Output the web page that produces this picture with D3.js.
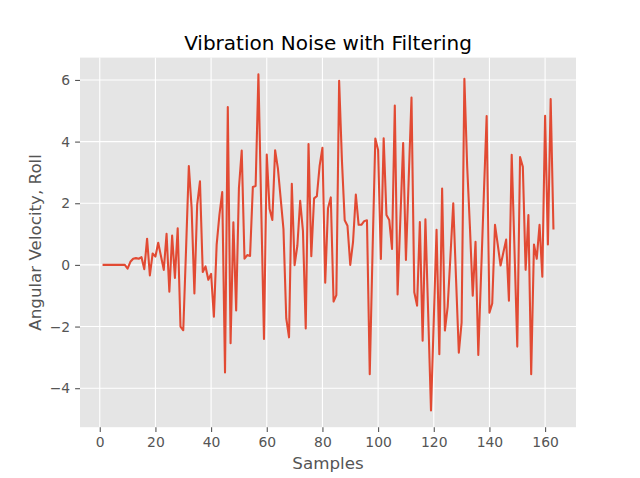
<!DOCTYPE html>
<html>
<head>
<meta charset="utf-8">
<script src="https://cdn.jsdelivr.net/npm/d3@7"></script>
<style>
  html, body { margin: 0; padding: 0; background: #fff; }
  svg { display: block; font-family: "DejaVu Sans", sans-serif; }
</style>
</head>
<body>
<div id="chart"></div>
<script>
// angular velocity (roll) per sample; samples start at 1
var roll = [
  0, 0, 0, 0, 0, 0, 0, 0, 0, -0.12,
  0.1, 0.2, 0.22, 0.2, 0.25, -0.14, 0.85, -0.34, 0.37, 0.27,
  0.72, 0.28, -0.16, 1.01, -0.87, 0.95, -0.42, 1.19, -2.0, -2.12,
  0.5, 3.21, 1.85, -0.93, 1.95, 2.71, -0.23, -0.05, -0.48, -0.29,
  -1.68, 0.66, 1.63, 2.36, -3.49, 5.12, -2.54, 1.38, -1.48, 2.5,
  3.71, 0.2, 0.32, 0.29, 2.53, 2.56, 6.18, 1.9, -2.4, 3.58,
  1.82, 1.46, 3.72, 3.13, 2.15, 1.16, -1.73, -2.35, 2.63, -0.01,
  0.63, 2.08, 1.1, -2.06, 3.92, 0.28, 2.16, 2.23, 3.22, 3.8,
  -0.58, 1.84, 2.19, -1.19, -0.98, 5.97, 3.4, 1.45, 1.27, 0,
  0.75, 2.28, 1.3, 1.3, 1.42, 1.45, -3.55, 0.4, 4.1, 3.73,
  0.19, 4.11, 1.62, 1.46, 0.52, 5.17, -0.96, 1.5, 3.95, 0.16,
  2.8, 5.43, -0.89, -1.32, 1.39, -2.46, 1.48, -1.6, -4.72, -1.8,
  1.14, -2.9, 2.48, -2.13, -1.35, 0.3, 2.0, -0.45, -2.85, -1.87,
  6.04, 3.2, 1.2, -1.0, 0.75, -2.92, -0.3, 2.3, 4.83, -1.55,
  -1.25, 1.3, 0.65, -0.02, 0.4, 0.82, -1.16, 3.57, 0.5, -2.65,
  3.5, 3.18, -0.16, 1.62, -3.55, 0.66, 0.2, 1.3, -0.38, 4.84,
  0.66, 5.38, 1.15
];
var samples = roll.map(function (v, i) { return i + 1; });

var xTicks = [0, 20, 40, 60, 80, 100, 120, 140, 160];
var yTicks = [-4, -2, 0, 2, 4, 6];

var svg_width = 640;
var svg_height = 478;
var plotLeft = 80, plotRight = 576, plotTop = 57.6, plotBottom = 427.2;

// matplotlib style 5% margins
function pad(ext) {
  var m = (ext[1] - ext[0]) * 0.05;
  return [ext[0] - m, ext[1] + m];
}

var x = d3.scaleLinear().domain(pad(d3.extent(samples))).range([plotLeft, plotRight]);
var y = d3.scaleLinear().domain(pad(d3.extent(roll))).range([plotBottom, plotTop]);

var svg = d3
  .select("#chart")
  .append("svg")
  .attr("width", svg_width)
  .attr("height", svg_height);

svg.append("rect")
  .attr("x", plotLeft)
  .attr("y", plotTop)
  .attr("width", plotRight - plotLeft)
  .attr("height", plotBottom - plotTop)
  .attr("fill", "#E5E5E5");

// grid
svg.append("g")
  .selectAll("line")
  .data(xTicks)
  .join("line")
  .attr("x1", function (d) { return x(d); })
  .attr("x2", function (d) { return x(d); })
  .attr("y1", plotTop)
  .attr("y2", plotBottom)
  .attr("stroke", "#fff")
  .attr("stroke-width", 1.1);

svg.append("g")
  .selectAll("line")
  .data(yTicks)
  .join("line")
  .attr("x1", plotLeft)
  .attr("x2", plotRight)
  .attr("y1", function (d) { return y(d); })
  .attr("y2", function (d) { return y(d); })
  .attr("stroke", "#fff")
  .attr("stroke-width", 1.1);

// axes
var fmt = d3.format("d");
var xAxis = svg.append("g")
  .attr("transform", "translate(0," + plotBottom + ")")
  .call(d3.axisBottom(x).tickValues(xTicks).tickFormat(fmt).tickSize(4.9).tickPadding(4.9));
var yAxis = svg.append("g")
  .attr("transform", "translate(" + plotLeft + ",0)")
  .call(d3.axisLeft(y).tickValues(yTicks).tickFormat(fmt).tickSize(4.9).tickPadding(4.9));

[xAxis, yAxis].forEach(function (g) {
  g.select(".domain").remove();
  g.selectAll(".tick line").attr("stroke", "#555555").attr("stroke-width", 1.1);
  g.selectAll(".tick text")
    .attr("fill", "#555555")
    .style("font-size", "13.9px")
    .style("font-family", "DejaVu Sans");
});

// data line
var line = d3.line()
  .x(function (d, i) { return x(samples[i]); })
  .y(function (d) { return y(d); });

svg.append("path")
  .datum(roll)
  .attr("d", line)
  .attr("fill", "none")
  .attr("stroke", "#E24A33")
  .attr("stroke-width", 2.08)
  .attr("stroke-linejoin", "round");

// labels
svg.append("text")
  .attr("x", (plotLeft + plotRight) / 2)
  .attr("y", 49.5)
  .attr("text-anchor", "middle")
  .attr("fill", "#000")
  .style("font-size", "20px")
  .text("Vibration Noise with Filtering");

svg.append("text")
  .attr("x", (plotLeft + plotRight) / 2)
  .attr("y", 469)
  .attr("text-anchor", "middle")
  .attr("fill", "#555555")
  .style("font-size", "16.7px")
  .text("Samples");

svg.append("text")
  .attr("transform", "translate(41," + (plotTop + plotBottom) / 2 + ") rotate(-90)")
  .attr("text-anchor", "middle")
  .attr("fill", "#555555")
  .style("font-size", "16.7px")
  .text("Angular Velocity, Roll");
</script>
</body>
</html>
